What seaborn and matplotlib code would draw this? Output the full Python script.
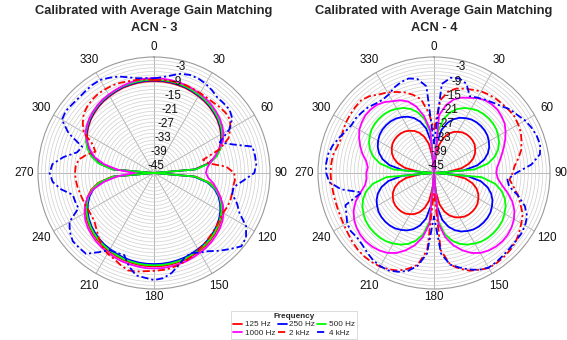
import numpy as np
import pandas as pd
import matplotlib
matplotlib.use("Agg")
import matplotlib.pyplot as plt
from matplotlib.lines import Line2D
import seaborn as sns

sns.set_theme(style="white")
plt.rcParams["font.family"] = ["Liberation Sans", "DejaVu Sans"]

# compass angles in degrees (0 = north, clockwise), 5 degree steps
angles_deg = list(range(0, 360, 5))

freq_labels = ["125 Hz", "250 Hz", "500 Hz", "1000 Hz", "2 kHz", "4 kHz"]
freq_colors = ["#ff0000", "#0000ff", "#00ff00", "#ff00ff", "#ff0000", "#0000ff"]

# ---- ACN - 3 (normalised gain, dB) ----
acn3_125 = [-10.0, -10.0, -10.1, -10.3, -10.5, -10.9, -11.3, -11.7, -12.3, -13.0, -13.8, -14.8, -16.0, -17.5, -19.3, -21.7, -25.2, -31.2,
            -48.0, -30.6, -24.6, -21.1, -18.7, -16.9, -15.4, -14.2, -13.2, -12.4, -11.7, -11.1, -10.7, -10.3, -9.9, -9.7, -9.5, -9.4,
            -9.4, -9.4, -9.5, -9.7, -9.9, -10.3, -10.7, -11.1, -11.7, -12.4, -13.2, -14.2, -15.4, -16.9, -18.7, -21.1, -24.6, -30.6,
            -48.0, -31.2, -25.2, -21.7, -19.3, -17.5, -16.0, -14.8, -13.8, -13.0, -12.3, -11.7, -11.3, -10.9, -10.5, -10.3, -10.1, -10.0]
acn3_250 = [-9.7, -9.7, -9.8, -10.0, -10.2, -10.6, -11.0, -11.4, -12.0, -12.7, -13.5, -14.5, -15.7, -17.2, -19.0, -21.4, -24.9, -30.9,
            -48.0, -31.5, -25.5, -22.0, -19.6, -17.8, -16.3, -15.1, -14.1, -13.3, -12.6, -12.0, -11.6, -11.2, -10.8, -10.6, -10.4, -10.3,
            -10.3, -10.3, -10.4, -10.6, -10.8, -11.2, -11.6, -12.0, -12.6, -13.3, -14.1, -15.1, -16.3, -17.8, -19.6, -22.0, -25.5, -31.5,
            -48.0, -30.9, -24.9, -21.4, -19.0, -17.2, -15.7, -14.5, -13.5, -12.7, -12.0, -11.4, -11.0, -10.6, -10.2, -10.0, -9.8, -9.7]
acn3_500 = [-9.4, -9.4, -9.5, -9.7, -9.9, -10.3, -10.7, -11.1, -11.7, -12.4, -13.2, -14.2, -15.4, -16.9, -18.7, -21.1, -24.6, -30.6,
            -48.0, -31.0, -25.0, -21.5, -19.1, -17.3, -15.8, -14.6, -13.6, -12.8, -12.1, -11.5, -11.1, -10.7, -10.3, -10.1, -9.9, -9.8,
            -9.8, -9.8, -9.9, -10.1, -10.3, -10.7, -11.1, -11.5, -12.1, -12.8, -13.6, -14.6, -15.8, -17.3, -19.1, -21.5, -25.0, -31.0,
            -48.0, -30.6, -24.6, -21.1, -18.7, -16.9, -15.4, -14.2, -13.2, -12.4, -11.7, -11.1, -10.7, -10.3, -9.9, -9.7, -9.5, -9.4]
acn3_1000 = [-8.8, -8.8, -8.9, -9.1, -9.3, -9.7, -10.1, -10.5, -11.1, -11.8, -12.6, -13.6, -14.8, -16.5, -19.5, -22.0, -24.5, -26.0,
             -26.5, -25.5, -23.0, -21.0, -18.8, -16.5, -14.8, -13.4, -12.4, -11.6, -10.9, -10.3, -9.9, -9.5, -9.1, -8.9, -8.7, -8.5,
             -8.5, -8.5, -8.7, -8.9, -9.1, -9.5, -9.9, -10.3, -10.9, -11.6, -12.4, -13.4, -14.8, -16.5, -18.8, -22.0, -27.0, -33.0,
             -40.0, -33.0, -27.0, -22.5, -19.8, -17.5, -15.2, -14.0, -13.0, -12.2, -11.5, -10.9, -10.5, -10.1, -9.7, -9.3, -9.0, -8.8]
acn3_2k = [-9.5, -9.4, -9.3, -9.3, -9.4, -9.6, -9.8, -9.9, -9.9, -9.5, -9.3, -9.6, -11.5, -14.0, -19.0, -27.0, -25.0, -18.0,
           -14.8, -14.4, -14.8, -14.6, -14.4, -14.6, -15.0, -14.7, -14.1, -13.5, -12.8, -12.0, -11.2, -10.2, -9.3, -8.6, -8.0, -7.7,
           -7.5, -7.2, -6.6, -6.3, -7.5, -8.8, -9.5, -10.8, -12.6, -14.5, -16.0, -16.7, -16.8, -16.7, -16.5, -16.2, -15.8, -15.5,
           -15.3, -15.5, -16.3, -19.0, -22.2, -20.0, -14.5, -12.0, -10.0, -9.0, -8.3, -7.9, -7.9, -7.9, -8.2, -8.6, -8.8, -9.2]
acn3_4k = [-8.8, -8.2, -7.0, -5.5, -4.8, -4.8, -5.3, -6.2, -7.2, -7.2, -7.2, -8.5, -12.0, -18.0, -13.4, -5.8, -5.6, -5.5,
           -6.5, -11.0, -14.5, -14.5, -11.5, -9.0, -4.0, -1.5, -0.8, -3.5, -6.0, -8.5, -10.0, -11.5, -10.8, -8.5, -6.0, -4.3,
           -3.7, -4.5, -5.0, -8.0, -11.9, -11.5, -11.2, -8.0, -4.3, -4.2, -4.1, -5.5, -7.6, -13.5, -13.3, -13.2, -9.0, -5.9,
           -4.8, -5.8, -10.0, -15.0, -16.4, -9.0, -4.0, -3.4, -3.8, -4.0, -3.8, -3.5, -3.5, -4.5, -5.5, -7.0, -8.2, -8.6]

# ---- ACN - 4 (normalised gain, dB) ----
acn4_125 = [-48.0, -42.2, -36.3, -33.0, -30.8, -29.3, -28.3, -27.5, -27.1, -27.0, -27.1, -27.5, -28.3, -29.3, -30.8, -33.0, -36.3, -42.2,
            -48.0, -40.7, -34.8, -31.5, -29.3, -27.8, -26.8, -26.0, -25.6, -25.5, -25.6, -26.0, -26.8, -27.8, -29.3, -31.5, -34.8, -40.7,
            -48.0, -42.2, -36.3, -33.0, -30.8, -29.3, -28.3, -27.5, -27.1, -27.0, -27.1, -27.5, -28.3, -29.3, -30.8, -33.0, -36.3, -42.2,
            -48.0, -41.7, -35.8, -32.5, -30.3, -28.8, -27.8, -27.0, -26.6, -26.5, -26.6, -27.0, -27.8, -28.8, -30.3, -32.5, -35.8, -41.7]
acn4_250 = [-48.0, -35.7, -29.8, -26.5, -24.3, -22.8, -21.8, -21.0, -20.6, -20.5, -20.6, -21.0, -21.8, -22.8, -24.3, -26.5, -29.8, -35.7,
            -48.0, -34.2, -28.3, -25.0, -22.8, -21.3, -20.3, -19.5, -19.1, -19.0, -19.1, -19.5, -20.3, -21.3, -22.8, -25.0, -28.3, -34.2,
            -48.0, -34.7, -28.8, -25.5, -23.3, -21.8, -20.8, -20.0, -19.6, -19.5, -19.6, -20.0, -20.8, -21.8, -23.3, -25.5, -28.8, -34.7,
            -48.0, -35.2, -29.3, -26.0, -23.8, -22.3, -21.3, -20.5, -20.1, -20.0, -20.1, -20.5, -21.3, -22.3, -23.8, -26.0, -29.3, -35.2]
acn4_500 = [-48.0, -31.2, -25.3, -22.0, -19.8, -18.3, -17.3, -16.5, -16.1, -16.0, -16.1, -16.5, -17.3, -18.3, -19.8, -22.0, -25.3, -31.2,
            -48.0, -28.2, -22.3, -19.0, -16.8, -15.3, -14.3, -13.5, -13.1, -13.0, -13.1, -13.5, -14.3, -15.3, -16.8, -19.0, -22.3, -28.2,
            -48.0, -28.2, -22.3, -19.0, -16.8, -15.3, -14.3, -13.5, -13.1, -13.0, -13.1, -13.5, -14.3, -15.3, -16.8, -19.0, -22.3, -28.2,
            -48.0, -31.2, -25.3, -22.0, -19.8, -18.3, -17.3, -16.5, -16.1, -16.0, -16.1, -16.5, -17.3, -18.3, -19.8, -22.0, -25.3, -31.2]
acn4_1000 = [-48.0, -24.0, -19.5, -16.5, -14.8, -13.7, -12.2, -11.2, -10.9, -10.9, -11.5, -12.3, -13.8, -15.5, -17.3, -19.0, -20.5, -21.8,
             -22.2, -21.5, -19.5, -16.5, -13.5, -11.3, -9.8, -8.8, -8.2, -8.0, -8.2, -8.8, -9.8, -11.5, -14.0, -17.0, -21.0, -27.0,
             -48.0, -27.0, -21.0, -17.0, -14.0, -11.5, -9.8, -8.8, -8.2, -8.0, -8.2, -8.8, -9.8, -11.3, -13.5, -16.5, -19.0, -20.0,
             -20.0, -20.5, -19.5, -17.3, -15.5, -13.8, -12.3, -11.5, -10.9, -10.9, -11.2, -12.2, -13.7, -14.8, -16.5, -19.5, -24.0, -30.0]
acn4_2k = [-30.0, -17.7, -13.7, -11.8, -10.9, -10.0, -9.0, -8.4, -8.0, -7.8, -7.5, -7.3, -7.8, -8.3, -9.5, -10.6, -12.5, -14.5,
           -15.5, -16.6, -14.5, -12.0, -9.9, -7.5, -6.3, -5.0, -3.8, -3.2, -2.8, -2.6, -2.6, -3.8, -5.0, -7.0, -9.5, -16.0,
           -40.0, -16.0, -9.5, -7.0, -5.0, -4.0, -3.3, -3.0, -3.0, -3.3, -3.8, -4.5, -5.0, -5.3, -5.5, -5.5, -5.5, -5.3,
           -5.2, -5.3, -5.5, -6.5, -7.0, -6.5, -6.0, -5.7, -5.5, -5.4, -6.5, -8.3, -9.5, -11.0, -12.5, -14.5, -17.0, -23.0]
acn4_4k = [-36.0, -11.0, -8.0, -7.5, -8.7, -13.0, -12.0, -11.0, -10.0, -8.8, -7.0, -6.0, -4.5, -3.5, -2.8, -2.5, -3.5, -7.5,
           -14.0, -17.5, -16.5, -12.0, -8.0, -5.5, -4.5, -4.0, -4.0, -3.8, -3.5, -3.0, -2.8, -3.8, -5.5, -7.5, -9.5, -14.5,
           -30.0, -14.5, -9.0, -6.0, -4.5, -3.5, -3.5, -4.0, -5.0, -6.0, -6.5, -6.0, -6.5, -8.0, -9.0, -17.0, -9.0, -4.5,
           -3.4, -3.2, -3.5, -4.5, -6.0, -7.5, -8.5, -8.5, -9.0, -9.5, -10.5, -11.0, -10.5, -9.0, -8.0, -7.5, -8.5, -12.0]

panels = [
    ("Calibrated with Average Gain Matching\nACN - 3",
     [acn3_125, acn3_250, acn3_500, acn3_1000, acn3_2k, acn3_4k]),
    ("Calibrated with Average Gain Matching\nACN - 4",
     [acn4_125, acn4_250, acn4_500, acn4_1000, acn4_2k, acn4_4k]),
]

r_min, r_max = -48.0, 0.0
ring_major = [-45, -39, -33, -27, -21, -15, -9, -3]
ring_all = np.arange(-46.5, 0.0, 1.5)
theta_ticks = list(range(0, 360, 30))
dash_pat = (0, (4.0, 1.6, 1.2, 1.6))
line_styles = ["-", "-", "-", "-", dash_pat, dash_pat]

W, H = 567, 340
fig = plt.figure(figsize=(W / 100, H / 100), dpi=100)
fig.patch.set_facecolor("white")

centers_x = [154, 434]
cy, rad = 173, 116
db_per_px = (r_max - r_min) / rad

for (title, series), cx in zip(panels, centers_x):
    ax = fig.add_axes([(cx - rad) / W, (H - cy - rad) / H, 2 * rad / W, 2 * rad / H],
                      projection="polar")
    ax.set_theta_zero_location("N")
    ax.set_theta_direction(-1)
    ax.set_facecolor("white")

    for i, vals in enumerate(series):
        th = np.deg2rad(angles_deg + [angles_deg[0] + 360])
        rr = np.clip(np.array(vals + [vals[0]]), r_min, r_max)
        df = pd.DataFrame({"theta": th, "gain": rr})
        sns.lineplot(data=df, x="theta", y="gain", ax=ax, sort=False,
                     estimator=None, color=freq_colors[i],
                     linestyle=line_styles[i], linewidth=1.3, legend=False)

    ax.set_ylim(r_min, r_max)
    ax.set_yticks(ring_all)
    ax.set_yticklabels([])
    ax.set_xticks(np.deg2rad(theta_ticks))
    ax.set_xticklabels([])
    ax.grid(True, color="#cfcfcf", linewidth=0.5)
    ax.xaxis.grid(True, color="#a8a8a8", linewidth=0.6)
    ax.spines["polar"].set_color("#9a9a9a")
    ax.spines["polar"].set_linewidth(0.8)
    ax.set_xlabel("")
    ax.set_ylabel("")

    # angle labels just outside the rim
    for a in theta_ticks:
        off_px = {0: 126, 180: 124, 90: 127}.get(a, 130)
        ax.text(np.deg2rad(a), r_min + off_px * db_per_px, str(a),
                ha="center", va="center", fontsize=8.4, color="#111111",
                clip_on=False)
    # ring labels along a spoke slightly right of north
    for v in ring_major:
        ax.text(np.deg2rad(14), v, str(v), ha="center", va="center",
                fontsize=8.4, color="#111111", zorder=5)

    fig.text(cx / W, 1 - 5 / H, title, ha="center", va="top",
             fontsize=9.3, fontweight="bold", linespacing=1.6)

handles = [Line2D([0], [0], color=c, linestyle=s, linewidth=1.3)
           for c, s in zip(freq_colors, line_styles)]
order = [0, 3, 1, 4, 2, 5]
leg = fig.legend([handles[k] for k in order], [freq_labels[k] for k in order],
                 ncol=3, loc="center", bbox_to_anchor=(294 / W, 1 - 325 / H),
                 title="Frequency", fontsize=5.9, title_fontproperties={"weight": "bold", "size": 5.9},
                 frameon=True, fancybox=False, edgecolor="#cccccc",
                 handlelength=1.1, handletextpad=0.3, columnspacing=0.3,
                 labelspacing=0.05, borderpad=0.25)
leg.get_frame().set_linewidth(0.6)

fig.savefig("out.png", dpi=100, facecolor="white")
